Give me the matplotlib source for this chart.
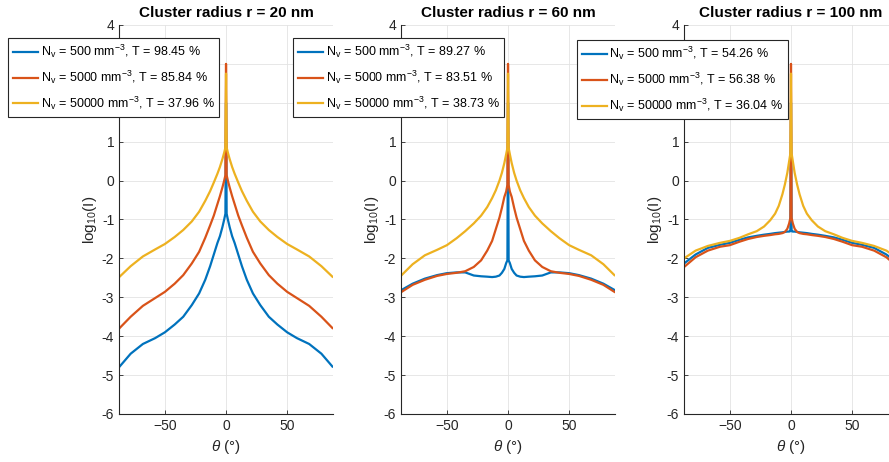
import numpy as np
import matplotlib.pyplot as plt

# scattering angle (deg), one side of each profile is mirrored from the other
theta_half = [0.5, 1.5, 3, 5, 7, 10, 13, 17, 22, 28, 35, 42, 50, 58, 68, 78, 87]

radii = [20, 60, 100]
densities = [500, 5000, 50000]
transmission = [
    [98.45, 85.84, 37.96],
    [89.27, 83.51, 38.73],
    [54.26, 56.38, 36.04],
]

# log10(I) for theta = theta_half, plus the value at theta = 0
r20_n500 = [-0.85, -1.0, -1.2, -1.43, -1.6, -1.9, -2.2, -2.55, -2.9, -3.2, -3.5, -3.7, -3.9, -4.05, -4.2, -4.45, -4.78]
r20_n5000 = [0.14, 0.0, -0.18, -0.4, -0.6, -0.9, -1.15, -1.47, -1.83, -2.13, -2.43, -2.65, -2.86, -3.02, -3.22, -3.5, -3.79]
r20_n50000 = [0.85, 0.72, 0.55, 0.35, 0.18, -0.05, -0.27, -0.52, -0.8, -1.05, -1.27, -1.45, -1.63, -1.77, -1.95, -2.2, -2.47]

r60_n500 = [-2.05, -2.12, -2.27, -2.37, -2.44, -2.47, -2.48, -2.47, -2.46, -2.44, -2.36, -2.36, -2.38, -2.43, -2.52, -2.65, -2.81]
r60_n5000 = [-0.11, -0.28, -0.42, -0.7, -0.95, -1.25, -1.55, -1.8, -2.05, -2.22, -2.33, -2.37, -2.4, -2.45, -2.55, -2.68, -2.86]
r60_n50000 = [0.84, 0.68, 0.45, 0.2, 0.0, -0.25, -0.45, -0.68, -0.9, -1.1, -1.3, -1.48, -1.66, -1.78, -1.92, -2.15, -2.43]

r100_n500 = [-1.3, -1.31, -1.31, -1.32, -1.33, -1.34, -1.35, -1.37, -1.39, -1.42, -1.46, -1.52, -1.6, -1.65, -1.73, -1.9, -2.12]
r100_n5000 = [-0.96, -1.1, -1.24, -1.32, -1.35, -1.37, -1.38, -1.4, -1.42, -1.45, -1.5, -1.57, -1.66, -1.7, -1.8, -1.97, -2.21]
r100_n50000 = [0.7, 0.5, 0.2, -0.1, -0.35, -0.65, -0.85, -1.02, -1.18, -1.3, -1.38, -1.47, -1.55, -1.6, -1.68, -1.8, -1.99]

peak_at_zero = [2.0, 3.0, 2.75]

profiles = [
    [r20_n500, r20_n5000, r20_n50000],
    [r60_n500, r60_n5000, r60_n50000],
    [r100_n500, r100_n5000, r100_n50000],
]

y_ticks = [-6, -5, -4, -3, -2, -1, 0, 1, 2, 3, 4]
# 2 and 3 sit behind the legend in the original
y_ticklabels = ['-6', '-5', '-4', '-3', '-2', '-1', '0', '1', '', '', '4']

colors = ['#0072BD', '#D95319', '#EDB120']

plt.rcParams['font.family'] = ['Liberation Sans', 'DejaVu Sans']
plt.rcParams['mathtext.fontset'] = 'custom'
plt.rcParams['mathtext.rm'] = 'Liberation Sans'
plt.rcParams['mathtext.it'] = 'Liberation Sans:italic'

fig = plt.figure(figsize=(8.89, 4.62), dpi=100)

ax_left = [0.1339, 0.4511, 0.7694]
legend_pos = [(0.009, 0.918), (0.3296, 0.918), (0.649, 0.913)]

th = np.array(theta_half)
theta = np.concatenate([-th[::-1], [0.0], th])

for i, r in enumerate(radii):
    ax = fig.add_axes([ax_left[i], 0.1039, 0.2407, 0.842])
    for j, n in enumerate(densities):
        v = np.array(profiles[i][j])
        y = np.concatenate([v[::-1], [peak_at_zero[j]], v])
        ax.plot(theta, y, color=colors[j], lw=1.6,
                label=r'N$_\mathrm{v}$ = %d mm$^{-3}$, T = %.2f %%' % (n, transmission[i][j]))

    ax.set_xlim(-87.5, 87.5)
    ax.set_ylim(-6, 4)
    ax.set_xticks([-50, 0, 50])
    ax.set_yticks(y_ticks)
    ax.set_yticklabels(y_ticklabels)
    ax.grid(True, color='#e3e3e3', lw=0.6)
    ax.set_axisbelow(True)
    for s in ['top', 'right']:
        ax.spines[s].set_visible(False)
    for s in ['left', 'bottom']:
        ax.spines[s].set_color('#262626')
        ax.spines[s].set_linewidth(0.8)
    ax.tick_params(direction='in', length=3, width=0.6, color='#262626',
                   labelsize=10, labelcolor='#262626')
    ax.set_title('Cluster radius r = %d nm' % r, fontsize=11, fontweight='bold', pad=6)
    ax.set_xlabel(r'$\it{\theta}$ (°)', fontsize=11, color='#262626')
    ax.set_ylabel(r'log$_{10}$(I)', fontsize=11, color='#262626', labelpad=2)

    leg = ax.legend(loc='upper left', bbox_to_anchor=legend_pos[i],
                    bbox_transform=fig.transFigure, fontsize=9.0, fancybox=False,
                    framealpha=1, edgecolor='#262626', handlelength=2.0,
                    borderpad=0.4, labelspacing=0.68, handletextpad=0.2,
                    borderaxespad=0)
    leg.get_frame().set_linewidth(0.8)

fig.savefig('out.png', dpi=100)
